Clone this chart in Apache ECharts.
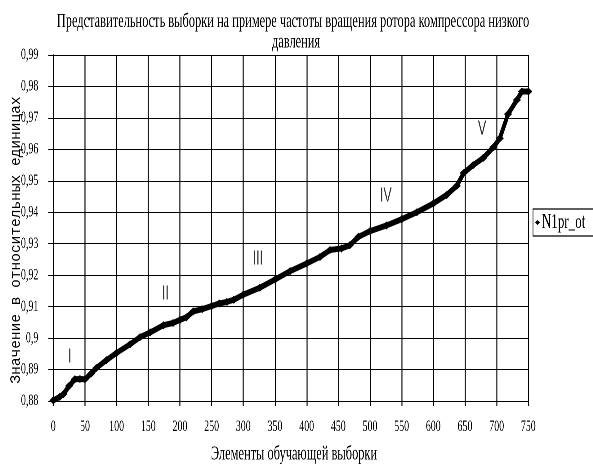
<!DOCTYPE html>
<html><head><meta charset="utf-8">
<script src="https://cdn.jsdelivr.net/npm/echarts@6/dist/echarts.min.js"></script>
<style>
html,body{margin:0;padding:0;background:#fff;overflow:hidden}
#wrap{width:593px;height:467px;overflow:hidden;position:relative;background:#fff}
#c{position:absolute;left:0;top:0;width:956px;height:467px;transform:scaleX(0.620293);transform-origin:0 0}
</style></head>
<body><div id="wrap"><div id="c"></div></div>
<script>
const titleLine1 = 'Представительность выборки на примере частоты вращения ротора компрессора низкого';
const titleLine2 = 'давления';
const seriesName = 'N1pr_ot';
const xAxisTitle = 'Элементы обучающей выборки';
const yAxisTitle = 'Значение в относительных единицах';

const xValues = [0,10,16,25,34,42,50,60,68,84,100,121,137,153,174,189,200,210,221,235,250,262,274,285,300,326,350,374,400,421,437,455,468,482,500,526,550,574,600,621,637,648,663,679,695,705,718,732,740,750];
const yValues = [0.8802,0.8813,0.8822,0.8848,0.8869,0.8870,0.8869,0.8888,0.8905,0.8930,0.8953,0.8980,0.9003,0.9018,0.9041,0.9048,0.9058,0.9066,0.9085,0.9092,0.9102,0.9110,0.9115,0.9122,0.9138,0.9160,0.9186,0.9213,0.9237,0.9258,0.9280,0.9285,0.9295,0.9322,0.9340,0.9358,0.9378,0.9400,0.9428,0.9455,0.9484,0.9525,0.9550,0.9573,0.9607,0.9635,0.9712,0.9757,0.9784,0.9784];

const xTickLabels = ['0','50','100','150','200','250','300','350','400','450','500','550','600','650','700','750'];
const yTickLabels = ['0,88','0,89','0,9','0,91','0,92','0,93','0,94','0,95','0,96','0,97','0,98','0,99'];

const noteLabels = ['I','II','III','IV','V'];
const noteX = [26,177,323,525,677];
const noteY = [0.894,0.914,0.9251,0.9452,0.9665];

const W = 956, S = 593 / W;
const px = v => v / S;

const chart = echarts.init(document.getElementById('c'), null, {renderer: 'canvas', width: W, height: 467, devicePixelRatio: 2});
const serif = 'Liberation Serif';
chart.setOption({
  animation: false,
  backgroundColor: '#fff',
  grid: {left: px(53.3), right: px(593 - 528.3), top: 55, bottom: 66, containLabel: false},
  xAxis: {
    type: 'value', min: 0, max: 750, interval: 50,
    axisLine: {show: true, lineStyle: {color: '#000', width: 1}},
    axisTick: {show: true, inside: false, length: 5, lineStyle: {color: '#000', width: px(1)}},
    splitLine: {show: true, lineStyle: {color: '#000', width: px(1)}},
    axisLabel: {margin: 18, color: '#000', fontFamily: serif, fontSize: 16,
      formatter: v => xTickLabels[Math.round(v / 50)]}
  },
  yAxis: {
    type: 'value', min: 0.88, max: 0.99, interval: 0.01,
    axisLine: {show: true, lineStyle: {color: '#000', width: px(1)}},
    axisTick: {show: true, inside: false, length: px(5), lineStyle: {color: '#000', width: 1}},
    splitLine: {show: true, lineStyle: {color: '#000', width: 1}},
    axisLabel: {margin: px(15), color: '#000', fontFamily: serif, fontSize: 16,
      formatter: v => yTickLabels[Math.round((v - 0.88) * 100)]}
  },
  legend: {
    data: [seriesName], orient: 'vertical', left: px(533), top: 209,
    icon: 'diamond', itemWidth: px(5), itemHeight: 5, itemGap: 4,
    padding: [3, 40, 3, px(2)], borderColor: '#000', borderWidth: 1.2,
    textStyle: {fontFamily: serif, fontSize: 21, color: '#000', padding: [0, 0, 0, -2]}
  },
  graphic: [
    {type: 'text', x: px(293), y: 21.5, silent: true,
      style: {text: titleLine1, font: '20px "Liberation Serif"', fill: '#000', align: 'center', verticalAlign: 'middle'}},
    {type: 'text', x: px(296), y: 42, silent: true,
      style: {text: titleLine2, font: '20px "Liberation Serif"', fill: '#000', align: 'center', verticalAlign: 'middle'}},
    {type: 'text', x: px(294), y: 454, silent: true,
      style: {text: xAxisTitle, font: '20px "Liberation Serif"', fill: '#000', align: 'center', verticalAlign: 'middle'}},
    {type: 'text', x: px(16), y: 240, rotation: Math.PI / 2, scaleY: 1 / S, silent: true,
      style: {text: yAxisTitle, font: '14.5px "Liberation Mono"', fill: '#000', align: 'center', verticalAlign: 'middle'}}
  ],
  series: [
    {
      name: seriesName, type: 'line',
      data: xValues.map((x, i) => [x, yValues[i]]),
      symbol: 'diamond', symbolSize: [px(8), 8], showSymbol: true,
      lineStyle: {color: '#000', width: 6}, itemStyle: {color: '#000'},
      silent: true
    },
    {
      name: 'notes', type: 'scatter',
      data: noteLabels.map((n, i) => ({name: n, value: [noteX[i], noteY[i]]})),
      symbolSize: 1, itemStyle: {color: 'rgba(0,0,0,0)'},
      label: {show: true, position: 'inside', formatter: p => p.name,
        fontFamily: 'Liberation Sans', fontSize: 20, color: '#000'},
      silent: true
    }
  ]
});
</script>
</body></html>
